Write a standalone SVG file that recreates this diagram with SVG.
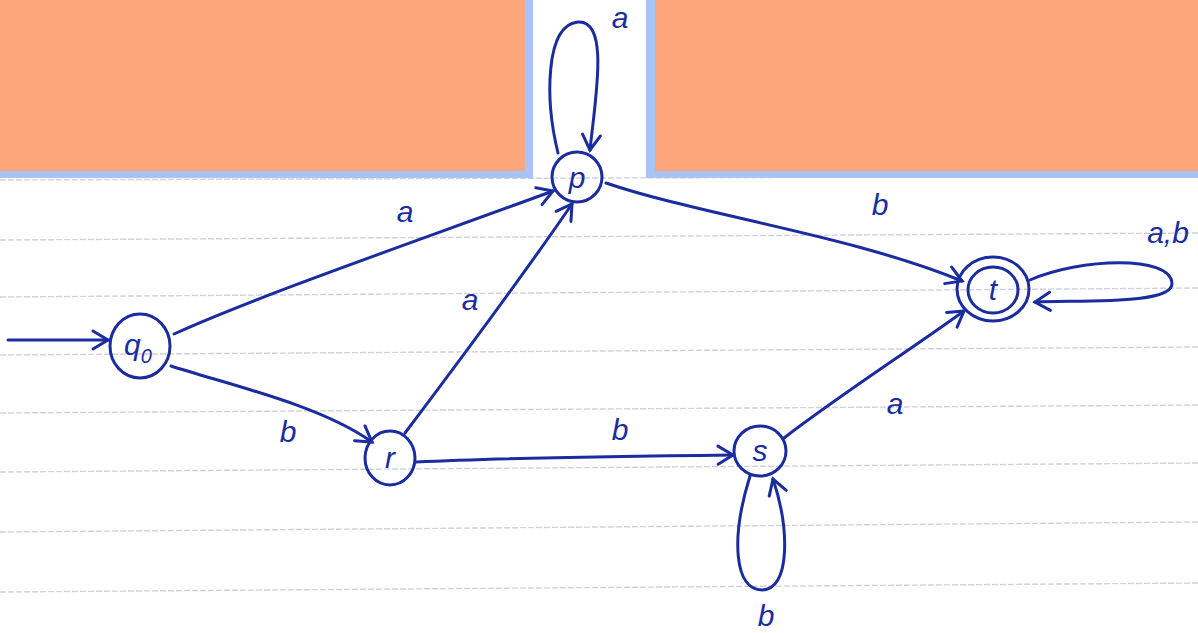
<svg xmlns="http://www.w3.org/2000/svg" width="1198" height="633" viewBox="0 0 1198 633">
<style>
.paper{stroke:#cfd2de;stroke-width:1.4;stroke-dasharray:6 2}
.edge{fill:none;stroke:#1b2d9e;stroke-width:3;stroke-linecap:round;marker-end:url(#arr)}
.node{fill:none;stroke:#1b2d9e;stroke-width:3}
.lbl{font-family:"Liberation Sans",Arial,sans-serif;font-style:italic;font-size:30px;fill:#1b2d9e;text-anchor:middle}
.nl{font-family:"Liberation Sans",Arial,sans-serif;font-style:italic;font-size:30px;fill:#1b2d9e;text-anchor:middle}
</style>
<defs>
<marker id="arr" markerUnits="userSpaceOnUse" markerWidth="30" markerHeight="30" viewBox="-20 -15 30 30" refX="0" refY="0" orient="auto">
<path d="M-15,-9 L0,0 L-15,9" fill="none" stroke="#1b2d9e" stroke-width="3" stroke-linecap="round"/>
</marker>
</defs>
<rect width="1198" height="633" fill="#ffffff"/>
<g id="paper">
<line class="paper" x1="0" y1="180" x2="1198" y2="176"/>
<line class="paper" x1="0" y1="240" x2="1198" y2="233"/>
<line class="paper" x1="0" y1="297" x2="1198" y2="288"/>
<line class="paper" x1="0" y1="355" x2="1198" y2="347"/>
<line class="paper" x1="0" y1="413" x2="1198" y2="405"/>
<line class="paper" x1="0" y1="472" x2="1198" y2="463"/>
<line class="paper" x1="0" y1="532" x2="1198" y2="522"/>
<line class="paper" x1="0" y1="592" x2="1198" y2="583"/>
</g>
<g id="redactions">
<rect x="0" y="0" width="533" height="178" fill="#a9c3f5"/>
<rect x="0" y="0" width="525" height="171" fill="#fda67c"/>
<rect x="646" y="0" width="552" height="178" fill="#a9c3f5"/>
<rect x="655" y="0" width="543" height="171" fill="#fda67c"/>
</g>
<g id="connectors">
<path class="edge" d="M8,340 L108,340"/>
<path class="edge" d="M174,334 C260,295 420,240 553,191"/>
<path class="edge" d="M171,366 C230,385 320,405 372,442"/>
<path class="edge" d="M405,433 C460,360 520,280 572,204"/>
<path class="edge" d="M416,462 C500,458 640,456 733,455"/>
<path class="edge" d="M606,183 C700,215 850,235 962,281"/>
<path class="edge" d="M784,438 C840,395 910,350 964,311"/>
<path class="edge" d="M558,153 C545,100 545,25 578,22 C610,20 595,100 590,150"/>
<path class="edge" d="M1030,280 C1080,258 1170,255 1172,283 C1174,305 1080,300 1035,302"/>
<path class="edge" d="M750,476 C730,540 735,590 762,590 C790,590 790,530 773,479"/>
<text class="lbl" x="405" y="222">a</text>
<text class="lbl" x="288" y="442">b</text>
<text class="lbl" x="470" y="310">a</text>
<text class="lbl" x="620" y="440">b</text>
<text class="lbl" x="880" y="215">b</text>
<text class="lbl" x="895" y="414">a</text>
<text class="lbl" x="620" y="28">a</text>
<text class="lbl" x="1168" y="243">a,b</text>
<text class="lbl" x="766" y="626">b</text>
</g>
<g id="q0">
<ellipse class="node" cx="140" cy="346" rx="30" ry="32"/>
<text class="nl" x="138" y="355">q<tspan font-size="20" dy="8">0</tspan></text>
</g>
<g id="p">
<ellipse class="node" cx="577" cy="177" rx="25" ry="25"/>
<text class="nl" x="577" y="188">p</text>
</g>
<g id="r">
<ellipse class="node" cx="390" cy="458" rx="25" ry="27"/>
<text class="nl" x="390" y="468">r</text>
</g>
<g id="s">
<ellipse class="node" cx="760" cy="451" rx="26" ry="25"/>
<text class="nl" x="760" y="461">s</text>
</g>
<g id="t">
<ellipse class="node" cx="993" cy="289" rx="36" ry="32"/>
<ellipse class="node" cx="993" cy="290" rx="25" ry="23"/>
<text class="nl" x="993" y="300">t</text>
</g>
</svg>
